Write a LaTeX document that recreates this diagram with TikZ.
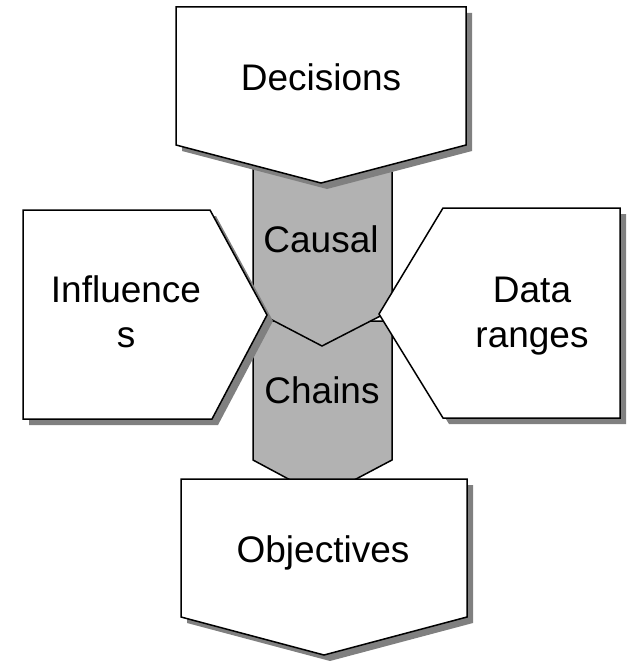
\documentclass[tikz,border=0pt]{standalone}
\usepackage{fontspec}
\setmainfont{Liberation Sans}
\definecolor{colfill}{RGB}{178,178,178}
\definecolor{colshadow}{RGB}{128,128,128}
\begin{document}
\begin{tikzpicture}[x=1pt,y=-1pt,
  outline/.style={draw=black,line width=1.5pt,line join=miter},
  shadowed/.style={preaction={draw=none,fill=colshadow,
      transform canvas={xshift=6pt,yshift=-6pt}}},
  whitebox/.style={outline,fill=white,shadowed},
  graybox/.style={outline,fill=colfill},
  label/.style={font=\fontsize{37}{45}\selectfont,inner sep=0pt,
      anchor=base,align=center}]
\useasboundingbox (0,0) rectangle (627,661);

% central grey column: two chevrons
\draw[graybox] (253,321) -- (253,460) -- (322,497) -- (392,460) -- (392,321) -- cycle;
\draw[graybox] (253,150) -- (253,310) -- (322,346) -- (392,310) -- (392,150) -- cycle;

% white pentagon boxes with drop shadows
\draw[whitebox] (176,7) -- (466,7) -- (466,145) -- (321,183) -- (176,145) -- cycle;
\draw[whitebox] (23,210) -- (210,210) -- (267,315) -- (212,419) -- (23,419) -- cycle;
\draw[whitebox] (620,208) -- (443,208) -- (379,314) -- (443,418) -- (620,418) -- cycle;
\draw[whitebox] (181,479) -- (467,479) -- (467,617) -- (324,655) -- (181,617) -- cycle;

% labels (multi-line labels sit on the baseline of their last line)
\node[label] (decisions) at (321,90) {Decisions};
\node[label] (causal) at (321,252) {Causal};
\node[label] (chains) at (322,403) {Chains};
\node[label] (objectives) at (323,562) {Objectives};
\node[label] (influences) at (126,347) {Influence\\s};
\node[label] (dataranges) at (532,347) {Data\\ranges};
\end{tikzpicture}
\end{document}
